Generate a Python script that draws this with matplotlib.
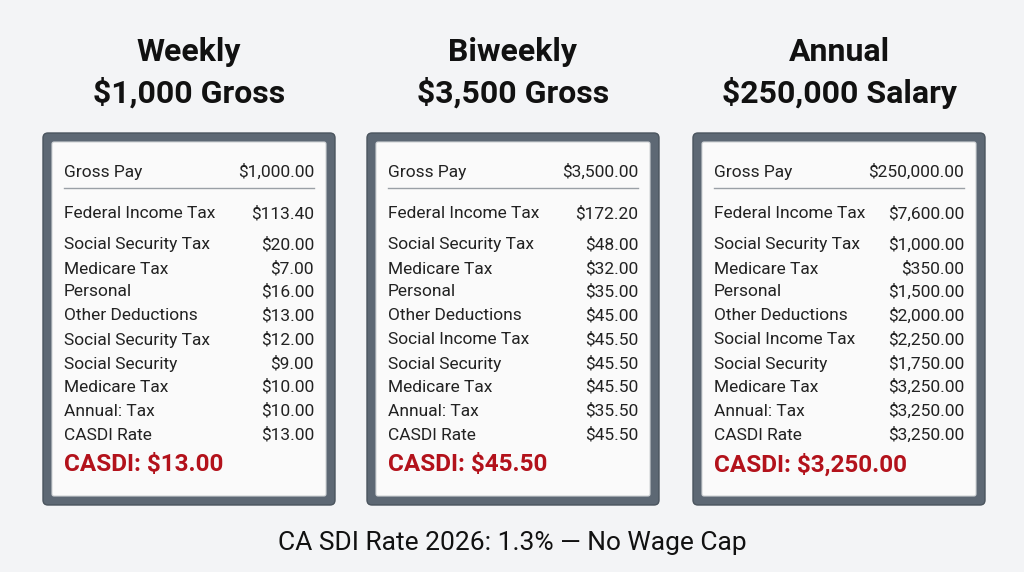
import matplotlib.pyplot as plt
from matplotlib.patches import FancyBboxPatch

plt.rcParams['font.family'] = ['Roboto', 'DejaVu Sans']

# data
titles = [("Weekly", "$1,000 Gross"), ("Biweekly", "$3,500 Gross"), ("Annual", "$250,000 Salary")]
gross = ["$1,000.00", "$3,500.00", "$250,000.00"]
row_labels = [
    ["Federal Income Tax", "Social Security Tax", "Medicare Tax", "Personal", "Other Deductions",
     "Social Security Tax", "Social Security", "Medicare Tax", "Annual: Tax", "CASDI Rate"],
    ["Federal Income Tax", "Social Security Tax", "Medicare Tax", "Personal", "Other Deductions",
     "Social Income Tax", "Social Security", "Medicare Tax", "Annual: Tax", "CASDI Rate"],
    ["Federal Income Tax", "Social Security Tax", "Medicare Tax", "Personal", "Other Deductions",
     "Social Income Tax", "Social Security", "Medicare Tax", "Annual: Tax", "CASDI Rate"],
]
row_values = [
    ["$113.40", "$20.00", "$7.00", "$16.00", "$13.00", "$12.00", "$9.00", "$10.00", "$10.00", "$13.00"],
    ["$172.20", "$48.00", "$32.00", "$35.00", "$45.00", "$45.50", "$45.50", "$45.50", "$35.50", "$45.50"],
    ["$7,600.00", "$1,000.00", "$350.00", "$1,500.00", "$2,000.00", "$2,250.00", "$1,750.00",
     "$3,250.00", "$3,250.00", "$3,250.00"],
]
casdi = ["CASDI: $13.00", "CASDI: $45.50", "CASDI: $3,250.00"]
footer = "CA SDI Rate 2026: 1.3% — No Wage Cap"

fig = plt.figure(figsize=(10.24, 5.72), dpi=100)
fig.patch.set_facecolor("#f3f4f6")
ax = fig.add_axes([0, 0, 1, 1])
ax.set_xlim(0, 1024)
ax.set_ylim(572, 0)
ax.axis("off")

panel_x = [43, 367, 693]
panel_w = 292
row_y = [214, 245, 269, 292, 316, 340, 364, 387, 411, 435]
red = "#b3121b"

for i, x0 in enumerate(panel_x):
    cx = x0 + panel_w / 2
    ax.text(cx, 52, titles[i][0], ha="center", va="center", fontsize=23, fontweight="bold", color="#111")
    ax.text(cx, 93, titles[i][1], ha="center", va="center", fontsize=23, fontweight="bold", color="#111")
    ax.add_patch(FancyBboxPatch((x0, 133), panel_w, 372, boxstyle="round,pad=0,rounding_size=5",
                                fc="#5d6874", ec="#4a545e", lw=1))
    ax.add_patch(FancyBboxPatch((x0 + 9, 142), panel_w - 18, 354, boxstyle="round,pad=0,rounding_size=2",
                                fc="#fafafa", ec="#d0d3d6", lw=0.8))
    lx, rx = x0 + 21, x0 + panel_w - 21
    ax.text(lx, 172, "Gross Pay", ha="left", va="center", fontsize=12.5, color="#222")
    ax.text(rx, 172, gross[i], ha="right", va="center", fontsize=12.5, color="#222")
    ax.plot([lx, rx], [188, 188], color="#9aa0a6", lw=1)
    for lab, val, y in zip(row_labels[i], row_values[i], row_y):
        ax.text(lx, y, lab, ha="left", va="center", fontsize=12.5, color="#222")
        ax.text(rx, y, val, ha="right", va="center", fontsize=12.5, color="#222")
    ax.text(lx, 465, casdi[i], ha="left", va="center", fontsize=17.5, fontweight="bold", color=red)

ax.text(512, 543, footer, ha="center", va="center", fontsize=19, color="#111")

fig.savefig("out.png", dpi=100, facecolor=fig.get_facecolor())
